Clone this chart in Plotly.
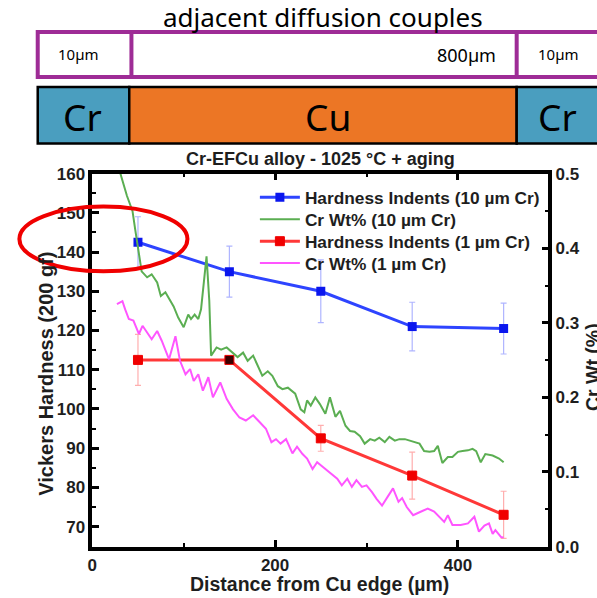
import plotly.graph_objects as go

# ---------------- data ----------------
dist_pts = [50, 150, 250, 350, 450]
hard_10 = [142.5, 135, 130, 121, 120.5]
hard_10_err = [6.5, 6.5, 8, 6.2, 6.5]
hard_1 = [112.5, 112.5, 92.5, 83, 73]
hard_1_err = [6.5, 0.8, 3.3, 6, 6]

cr10_x = [29, 31, 38, 44, 47, 51, 54, 60, 65, 71, 75, 80, 83, 89, 94, 100, 105, 108, 112, 116, 119,
          125, 128, 130, 136, 141, 147, 152, 159, 165, 170, 176, 181, 186, 192, 197,
          203, 208, 214, 222, 228, 232, 235, 239, 244, 249, 255, 260, 266, 271, 277,
          282, 287, 293, 298, 304, 309, 314, 320, 325, 331, 336, 342, 347, 352, 358,
          363, 369, 374, 378, 383, 389, 394, 400, 405, 411, 416, 420, 425, 430, 438, 445, 450]
cr10_y = [0.52, 0.499, 0.47, 0.45, 0.425, 0.394, 0.369, 0.361, 0.365, 0.354, 0.336, 0.341, 0.334, 0.322, 0.307,
          0.294, 0.311, 0.305, 0.311, 0.305, 0.318,
          0.389, 0.33, 0.256, 0.267, 0.264, 0.267, 0.262, 0.254, 0.26, 0.249, 0.256, 0.242, 0.229, 0.235, 0.229,
          0.215, 0.211, 0.213, 0.205, 0.184, 0.18, 0.196, 0.189, 0.2, 0.191, 0.178, 0.2, 0.174, 0.182, 0.162,
          0.155, 0.154, 0.148, 0.138, 0.144, 0.142, 0.146, 0.14, 0.147, 0.142, 0.144, 0.144, 0.142, 0.14, 0.138,
          0.128, 0.127, 0.128, 0.135, 0.112, 0.12, 0.12, 0.127, 0.128, 0.129, 0.131, 0.128, 0.113, 0.124, 0.122,
          0.118, 0.113]

cr1_x = [27, 33, 36, 40, 45, 51, 55, 60, 65, 71, 76, 84, 91, 96, 102, 107, 111, 116, 121, 127,
         132, 140, 147, 154, 161, 168, 176, 183, 190, 196, 201, 206, 212, 219, 224, 230, 235, 241, 246, 252,
         259, 268, 273, 279, 284, 289, 295, 300, 306, 311, 317, 324, 329, 335, 339, 344, 351, 358, 367, 374,
         382, 385, 389, 394, 403, 411, 418, 423, 429, 434, 438, 441, 447, 450]
cr1_y = [0.325, 0.329, 0.318, 0.305, 0.303, 0.285, 0.296, 0.287, 0.278, 0.289, 0.276, 0.251, 0.282, 0.249,
         0.231, 0.238, 0.222, 0.231, 0.209, 0.227,
         0.2, 0.22, 0.198, 0.184, 0.173, 0.169, 0.176, 0.167, 0.158, 0.14, 0.144, 0.138, 0.144, 0.125, 0.134,
         0.124, 0.118, 0.104, 0.113, 0.107,
         0.1, 0.091, 0.082, 0.091, 0.08, 0.089, 0.08, 0.082, 0.073, 0.064, 0.055, 0.069, 0.078, 0.06, 0.065,
         0.053, 0.042, 0.046, 0.051, 0.047,
         0.037, 0.033, 0.042, 0.029, 0.029, 0.031, 0.04, 0.02, 0.028, 0.031, 0.017, 0.022, 0.013, 0.012]

names = ["Hardness Indents (10 µm Cr)", "Cr Wt% (10 µm Cr)",
         "Hardness Indents (1 µm Cr)", "Cr Wt% (1 µm Cr)"]

W, H = 597, 598
# the captured page appears vertically squeezed (y_shown ~ 8.9 + 0.971*y); compensate
Y_OFF, Y_SCL = 8.9, 0.971


def px(x):
    return x / W


def py(y):
    return 1 - ((y - Y_OFF) / Y_SCL) / H


CHART_FONT = "Liberation Sans, Arial, sans-serif"
HEAD_FONT = "Noto Sans, sans-serif"
TXT = "#1e1e1e"

fig = go.Figure()
fig.add_trace(go.Scatter(
    x=dist_pts, y=hard_10, mode="lines+markers", name=names[0], legend="legend",
    line=dict(color="#2E44FF", width=3),
    marker=dict(symbol="square", size=9, color="#0A16EE"),
    error_y=dict(type="data", array=hard_10_err, color="rgba(110,120,255,0.55)", thickness=1.2, width=3),
    yaxis="y"))
fig.add_trace(go.Scatter(
    x=dist_pts, y=hard_1, mode="lines+markers", name=names[2], legend="legend3",
    line=dict(color="#FF3838", width=3),
    marker=dict(symbol="square", size=9, color=["#F00000", "#3A0000", "#F00000", "#F00000", "#F00000"],
                line=dict(color="#F00000", width=1)),
    error_y=dict(type="data", array=hard_1_err, color="rgba(255,120,120,0.6)", thickness=1.2, width=3),
    yaxis="y"))
fig.add_trace(go.Scatter(
    x=cr10_x, y=cr10_y, mode="lines", name=names[1], legend="legend2",
    line=dict(color="#5BAE52", width=2), yaxis="y2"))
fig.add_trace(go.Scatter(
    x=cr1_x, y=cr1_y, mode="lines", name=names[3], legend="legend4",
    line=dict(color="#FF55FF", width=2), yaxis="y2"))

tickfont = dict(family=CHART_FONT, size=17, color=TXT, weight="bold")
axis_common = dict(showline=True, linecolor="black", linewidth=3.5, ticks="inside", ticklen=7,
                   tickwidth=2.5, tickcolor="black", showgrid=False, zeroline=False, tickfont=tickfont)

shapes = []
PURPLE = "#9E2C96"
shapes.append(dict(type="rect", xref="paper", yref="paper", x0=px(33), x1=px(610), y0=py(77), y1=py(32),
                   line=dict(color=PURPLE, width=4), fillcolor="white"))
for xd in [127.5, 516]:
    shapes.append(dict(type="line", xref="paper", yref="paper", x0=px(xd), x1=px(xd), y0=py(77), y1=py(32),
                       line=dict(color=PURPLE, width=4)))
BLUE = "#4A9EBF"
ORANGE = "#EC7625"
for (a, b, c) in [(33, 125.3, BLUE), (125.3, 516, ORANGE), (516, 610, BLUE)]:
    shapes.append(dict(type="rect", xref="paper", yref="paper", x0=px(a), x1=px(b), y0=py(143.7), y1=py(87),
                       line=dict(color="black", width=2.5), fillcolor=c))
shapes.append(dict(type="circle", xref="paper", yref="paper", x0=px(14.5), x1=px(184), y0=py(272), y1=py(207),
                   line=dict(color="#F00000", width=4), layer="above"))

annotations = []


def ann(text, x, y, size, family=CHART_FONT, angle=0, color=TXT, xanchor="center", weight="normal"):
    annotations.append(dict(text=text, x=px(x), y=py(y), xref="paper", yref="paper", showarrow=False,
                            xanchor=xanchor, yanchor="middle", textangle=angle,
                            font=dict(family=family, size=size, color=color, weight=weight)))


ann("adjacent diffusion couples", 321, 17, 26, HEAD_FONT, color="#000")
ann("10µm", 74, 54, 15, HEAD_FONT, color="#000")
ann("800µm", 497, 55, 18, HEAD_FONT, color="#000", xanchor="right")
ann("10µm", 558, 54, 15, HEAD_FONT, color="#000")
ann("Cr", 78, 117, 37, HEAD_FONT, color="#000")
ann("Cu", 326, 117, 37, HEAD_FONT, color="#000")
ann("Cr", 557, 117, 37, HEAD_FONT, color="#000")

ann("Cr-EFCu alloy - 1025 °C + aging", 318.5, 159, 18, weight="bold")
ann("Distance from Cu edge (µm)", 317.5, 586, 19.5, weight="bold")
ann("Vickers Hardness (200 gf)", 41, 375, 20, angle=-90, weight="bold")
ann("Cr Wt (%)", 593, 368, 19.5, angle=-90, weight="bold")

legfont = dict(family=CHART_FONT, size=17.3, color=TXT, weight="bold")
leg = dict(xanchor="left", yanchor="middle", bgcolor="rgba(0,0,0,0)", font=legfont, itemwidth=40,
           borderwidth=0)
legend_rows = [198, 220, 242, 264]

fig.update_layout(
    width=W, height=H, margin=dict(l=0, r=0, t=0, b=0),
    paper_bgcolor="white", plot_bgcolor="white",
    xaxis=dict(domain=[px(88), px(548)], range=[0, 499], dtick=200, tick0=0, mirror="ticks",
               minor=dict(dtick=100, ticks="inside", ticklen=4, tickwidth=2, tickcolor="black"),
               anchor="y", **axis_common),
    yaxis=dict(domain=[py(548), py(174)], range=[64.9, 160], dtick=10, tick0=0,
               minor=dict(dtick=5, ticks="inside", ticklen=4, tickwidth=2, tickcolor="black"),
               anchor="x", **axis_common),
    yaxis2=dict(overlaying="y", side="right", range=[0, 0.5], dtick=0.1, tick0=0, tickformat=".1f",
                minor=dict(dtick=0.05, ticks="inside", ticklen=4, tickwidth=2, tickcolor="black"),
                anchor="x", **axis_common),
    showlegend=True,
    legend=dict(x=px(252), y=py(legend_rows[0]), **leg),
    legend2=dict(x=px(252), y=py(legend_rows[1]), **leg),
    legend3=dict(x=px(252), y=py(legend_rows[2]), **leg),
    legend4=dict(x=px(252), y=py(legend_rows[3]), **leg),
    shapes=shapes, annotations=annotations,
)

fig.write_html("out.html")
